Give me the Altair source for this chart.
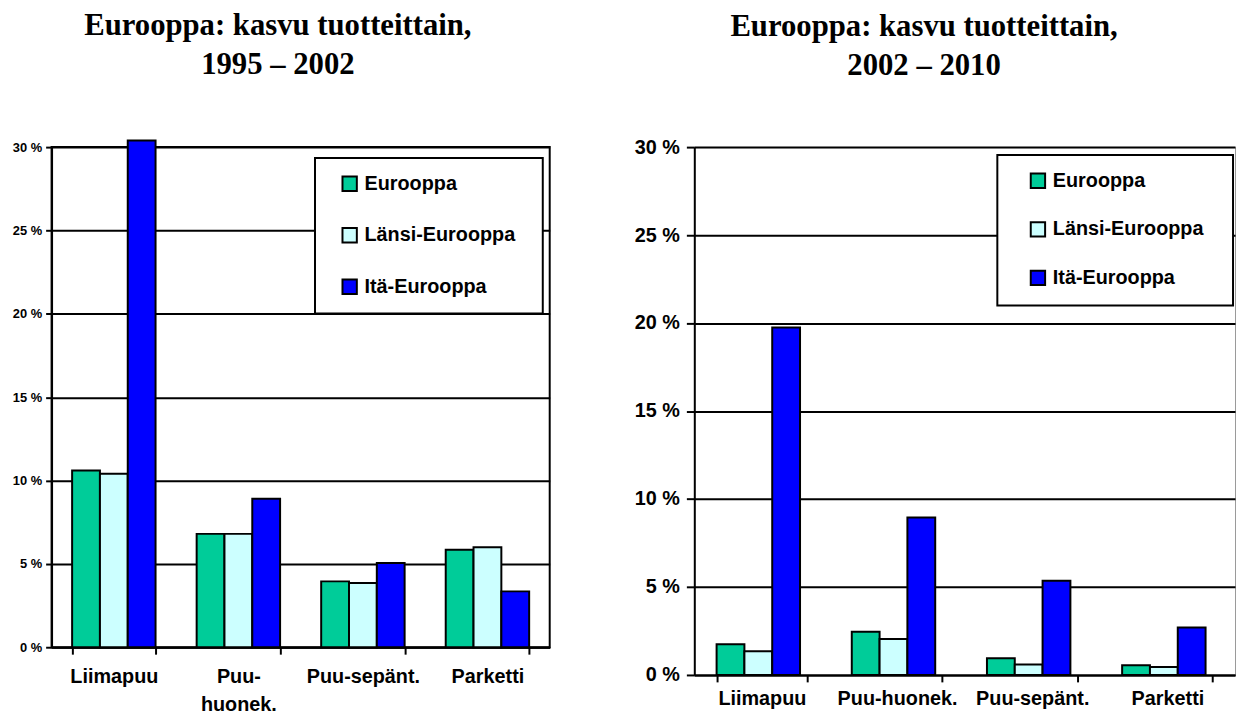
import altair as alt
import pandas as pd

categories = ["Liimapuu", "Puu-huonek.", "Puu-sepänt.", "Parketti"]
series = ["Eurooppa", "Länsi-Eurooppa", "Itä-Eurooppa"]
colors = ["#00CC99", "#CCFFFF", "#0000FF"]
y_ticks = [0, 5, 10, 15, 20, 25, 30]

left_eurooppa = [10.6, 6.8, 3.95, 5.85]
left_lansi = [10.4, 6.8, 3.85, 6.0]
left_ita = [30.4, 8.9, 5.05, 3.35]

right_eurooppa = [1.75, 2.45, 0.95, 0.55]
right_lansi = [1.35, 2.05, 0.6, 0.45]
right_ita = [19.75, 8.95, 5.35, 2.7]

left_title = ["Eurooppa: kasvu tuotteittain,", "1995 – 2002"]
right_title = ["Eurooppa: kasvu tuotteittain,", "2002 – 2010"]


def make_df(a, b, c):
    rows = []
    for vals, s in zip([a, b, c], series):
        for cat, v in zip(categories, vals):
            rows.append({"Tuote": cat, "Alue": s, "Arvo": v})
    return pd.DataFrame(rows)


def panel(df, title, w, h, ylab_size, ytick, ypad, xpad, xlabel_expr,
          legend_x, legend_y, row_pad, box, title_dx, title_offset,
          view_stroke, view_sw):
    bars = alt.Chart(df).mark_bar(stroke="black", strokeWidth=2, clip=False).encode(
        x=alt.X("Tuote:N", sort=categories, title=None,
                scale=alt.Scale(paddingInner=0.33, paddingOuter=0.165),
                axis=alt.Axis(labelAngle=0, labelFont="Liberation Sans", labelFontWeight="bold",
                              labelFontSize=20, labelColor="black", labelPadding=xpad,
                              labelLineHeight=28, labelExpr=xlabel_expr,
                              tickBand="extent", tickSize=7, tickWidth=2, tickColor="black",
                              domainColor="black", domainWidth=2, grid=False)),
        xOffset=alt.XOffset("Alue:N", sort=series, scale=alt.Scale(paddingInner=0, paddingOuter=0)),
        y=alt.Y("Arvo:Q", title=None,
                scale=alt.Scale(domain=[0, 30], nice=False),
                axis=alt.Axis(values=y_ticks, labelExpr="datum.value + ' %'",
                              labelFont="Liberation Sans", labelFontWeight="bold",
                              labelFontSize=ylab_size, labelColor="black", labelPadding=ypad,
                              tickSize=ytick, tickWidth=2, tickColor="black",
                              domainColor="black", domainWidth=2,
                              grid=True, gridColor="black", gridWidth=2, gridOpacity=1)),
        color=alt.Color("Alue:N", sort=series,
                        scale=alt.Scale(domain=series, range=colors),
                        legend=alt.Legend(title=None, orient="none", legendX=legend_x, legendY=legend_y,
                                          padding=16, symbolOffset=12, symbolType="square",
                                          symbolSize=210, symbolStrokeColor="black",
                                          symbolStrokeWidth=2, labelFont="Liberation Sans",
                                          labelFontWeight="bold", labelFontSize=20,
                                          labelColor="black", labelOffset=5, rowPadding=row_pad,
                                          labelLimit=400)),
    )
    frame = alt.Chart(pd.DataFrame({"kehys": [0]})).mark_rect(
        fill="white", stroke="black", strokeWidth=2
    ).encode(x=alt.value(box[0]), x2=alt.value(box[1]), y=alt.value(box[2]), y2=alt.value(box[3]))
    return alt.layer(frame, bars).properties(
        width=w, height=h,
        title=alt.TitleParams(text=title, font="Liberation Serif", fontWeight="bold",
                              fontSize=31, lineHeight=39, color="black", anchor="middle",
                              frame="group", dx=title_dx, offset=title_offset),
        view=alt.ViewBackground(stroke=view_stroke, strokeWidth=view_sw),
    )


left = panel(make_df(left_eurooppa, left_lansi, left_ita), left_title, 503, 505,
             13, 6, 4, 13,
             "datum.label == 'Puu-huonek.' ? ['Puu-', 'huonek.'] : datum.label",
             263, 11, 28, [266, 496, 11, 168], -23, 59, "black", 2)
right = panel(make_df(right_eurooppa, right_lansi, right_ita), right_title, 546, 533,
              20, 8, 7, 7, "datum.label",
              309, 8, 25, [306, 544, 8, 160], -41, 56, "#999999", 1)

chart = alt.hconcat(left, right, spacing=83).resolve_scale(
    color="independent").resolve_legend(color="independent").properties(
    padding={"left": 3, "top": -2, "right": 0, "bottom": 0}
).configure(background="white")

chart.save("out.html", embed_options={"renderer": "svg", "actions": False})
